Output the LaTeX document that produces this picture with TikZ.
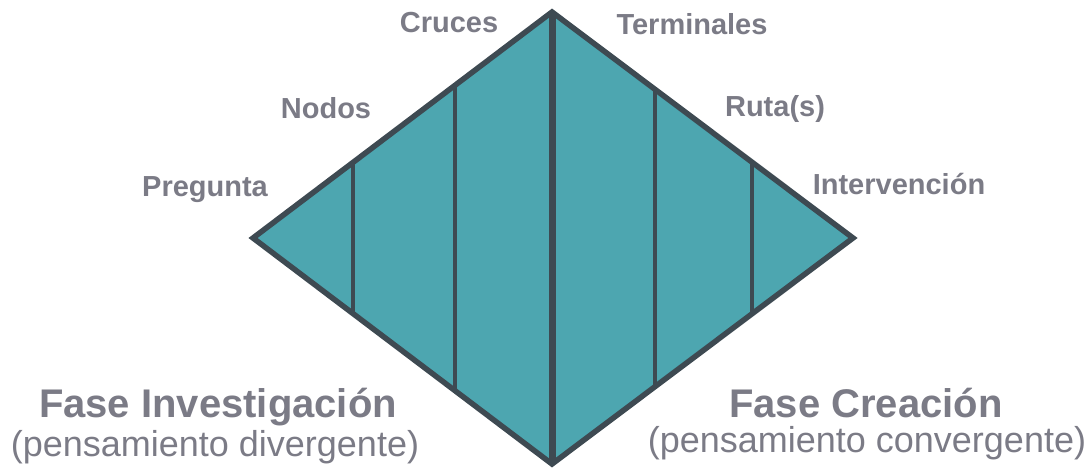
\documentclass[tikz,border=0pt]{standalone}
\usepackage{fontspec}
\setmainfont{Liberation Sans}
\definecolor{tealfill}{HTML}{4DA6B0}
\definecolor{edgegray}{HTML}{3E4A52}
\definecolor{textgray}{HTML}{7B7B86}
\begin{document}
\begin{tikzpicture}[x=1pt, y=-1pt,
	etiqueta/.style={text=textgray, font=\fontsize{29}{33}\selectfont\bfseries},
	fase/.style={text=textgray, inner sep=0pt, font=\fontsize{40}{46}\selectfont\bfseries},
	pensamiento/.style={text=textgray, inner sep=0pt, font=\fontsize{36}{41}\selectfont}]
	% marco
	\useasboundingbox (0, 0) rectangle (1091, 468);
	
	\def\xizq{253}
	\def\xder{853}
	\def\xmed{552}
	\def\ysup{12}
	\def\ymed{238}
	\def\yinf{464}
	
	\coordinate (izq) at (\xizq, \ymed);
	\coordinate (sup) at (\xmed, \ysup);
	\coordinate (der) at (\xder, \ymed);
	\coordinate (inf) at (\xmed, \yinf);
	
	% rombo
	\fill[tealfill] (izq) -- (sup) -- (der) -- (inf) -- cycle;
	
	% divisiones
	\begin{scope}
		\clip (izq) -- (sup) -- (der) -- (inf) -- cycle;
		\foreach \x in {353, 455, 655, 752}
			\draw[edgegray, line width=4.5pt] (\x, 0) -- (\x, 468);
	\end{scope}
	\draw[edgegray, line width=7pt] (sup) -- (inf);
	\draw[edgegray, line width=5.5pt, line join=miter] (izq) -- (sup) -- (der) -- (inf) -- cycle;
	
	% etiquetas
	\node[etiqueta] (cruces) at (449, 23) {Cruces};
	\node[etiqueta] (terminales) at (692, 24) {Terminales};
	\node[etiqueta] (nodos) at (326, 108) {Nodos};
	\node[etiqueta] (ruta) at (775, 109) {Ruta(s)};
	\node[etiqueta] (pregunta) at (205, 190) {Pregunta};
	\node[etiqueta] (intervencion) at (899, 184) {Intervención};
	
	% fases
	\node[fase] (investigacion) at (218, 407) {Fase Investigación};
	\node[pensamiento] (divergente) at (215, 447) {(pensamiento divergente)};
	\node[fase] (creacion) at (866, 403) {Fase Creación};
	\node[pensamiento] (convergente) at (867, 443) {(pensamiento convergente)};
\end{tikzpicture}
\end{document}
